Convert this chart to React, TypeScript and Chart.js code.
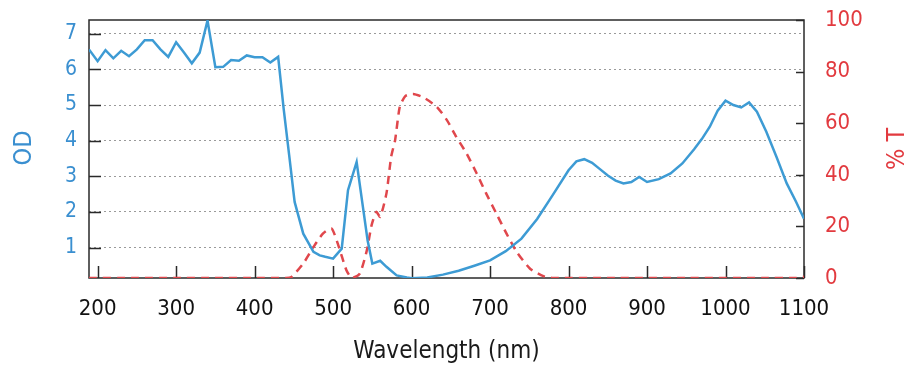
import React, { useEffect, useRef } from "react";
import { Chart, registerables } from "chart.js";

Chart.register(...registerables);

// Optical density (left axis)
const odWavelengths = [
  189, 200, 210, 220, 230, 240, 250, 260, 270, 280, 290, 300, 310, 320, 330, 340, 350, 360,
  370, 380, 390, 400, 410, 420, 430, 437, 444, 451, 462, 475, 483, 490, 500, 511, 519, 530,
  538, 544, 550, 560, 568, 581, 594, 600, 620, 640, 660, 680, 700, 720, 740, 760, 780, 800,
  810, 820, 830, 840, 850, 860, 870, 880, 890, 900, 915, 930, 945, 960, 970, 980, 990, 1000,
  1010, 1020, 1030, 1040, 1052, 1065, 1078, 1090, 1100,
];
const odValues = [
  6.56, 6.23, 6.54, 6.31, 6.52, 6.37, 6.56, 6.82, 6.82, 6.56, 6.35, 6.76, 6.47, 6.17, 6.47, 7.37, 6.06, 6.07,
  6.26, 6.24, 6.39, 6.34, 6.34, 6.19, 6.35, 4.9, 3.6, 2.28, 1.39, 0.88, 0.78, 0.74, 0.69, 0.97, 2.61, 3.4,
  2.14, 1.2, 0.55, 0.63, 0.46, 0.22, 0.16, 0.14, 0.16, 0.24, 0.35, 0.49, 0.64, 0.9, 1.25, 1.8, 2.48, 3.17,
  3.42, 3.48, 3.38, 3.2, 3.02, 2.88, 2.8, 2.84, 2.98, 2.84, 2.92, 3.08, 3.36, 3.76, 4.05, 4.39, 4.84, 5.12,
  5.0, 4.93, 5.07, 4.81, 4.25, 3.54, 2.8, 2.28, 1.81,
];

// Transmission % (right axis)
const tWavelengths = [
  189, 250, 300, 350, 400, 440, 447, 462, 475, 487, 498, 506, 517, 524, 534, 543, 549, 555,
  560, 568, 574, 579, 585, 592, 602, 615, 632, 645, 657, 670, 683, 695, 708, 721, 734, 751,
  768, 780, 850, 950, 1050, 1090, 1100,
];
const tValues = [
  0, 0, 0, 0, 0, 0, 0.4, 5.6, 12, 17.2, 19.2, 13.3, 3, 0, 1.7, 10.7, 20.4, 25.6,
  23.7, 32.8, 47, 53.4, 66.4, 70.5, 71.3, 70, 66.4, 61.2, 54.7, 48.3, 40.5, 32.8, 25, 17.2, 10.1, 3.6,
  0.7, 0, 0, 0, 0, 0, 0.5,
];

const xTitle = "Wavelength (nm)";
const leftTitle = "OD";
const rightTitle = "% T";

const FONT = "'DejaVu Sans Condensed', 'DejaVu Sans', sans-serif";
const BLUE = "#3d9bd4";
const BLUE_TEXT = "#3a8fd0";
const RED = "#e0474c";
const RED_TEXT = "#e23a3f";
const FRAME = "#2a2a2a";

const framePlugin = {
  id: "frame",
  beforeDatasetsDraw(chart: any) {
    const { ctx, chartArea: a, scales } = chart;
    ctx.save();
    ctx.strokeStyle = FRAME;
    ctx.lineWidth = 1.5;
    ctx.strokeRect(a.left, a.top, a.right - a.left, a.bottom - a.top);
    ctx.beginPath();
    scales.y.ticks.forEach((t: any) => {
      const py = Math.round(scales.y.getPixelForValue(t.value)) + 0.5;
      ctx.moveTo(a.left, py);
      ctx.lineTo(a.left + 12, py);
    });
    scales.x.ticks.forEach((t: any) => {
      const px = Math.round(scales.x.getPixelForValue(t.value)) + 0.5;
      ctx.moveTo(px, a.bottom);
      ctx.lineTo(px, a.bottom - 12);
    });
    scales.y1.ticks.forEach((t: any) => {
      const py = Math.round(scales.y1.getPixelForValue(t.value)) + 0.5;
      ctx.moveTo(a.right, py);
      ctx.lineTo(a.right - 8, py);
    });
    ctx.stroke();
    ctx.restore();
  },
  afterDraw(chart: any) {
    const { ctx, chartArea: a } = chart;
    ctx.save();
    ctx.textAlign = "center";
    ctx.textBaseline = "middle";
    ctx.fillStyle = "#1a1a1a";
    ctx.font = `24px ${FONT}`;
    ctx.fillText(xTitle, (a.left + a.right) / 2, 352);
    ctx.fillStyle = BLUE_TEXT;
    ctx.font = `25px ${FONT}`;
    ctx.translate(24, 148);
    ctx.rotate(-Math.PI / 2);
    ctx.fillText(leftTitle, 0, 0);
    ctx.setTransform(1, 0, 0, 1, 0, 0);
    ctx.fillStyle = RED_TEXT;
    ctx.translate(897, 149);
    ctx.rotate(-Math.PI / 2);
    ctx.fillText(rightTitle, 0, 0);
    ctx.restore();
  },
};

const noPadV = (w: number) => (s: any) => {
  s.width = w;
  s.paddingTop = 0;
  s.paddingBottom = 0;
};

export default function App() {
  const ref = useRef<HTMLCanvasElement | null>(null);

  useEffect(() => {
    if (!ref.current) return;
    const chart = new Chart(ref.current, {
      type: "line",
      data: {
        datasets: [
          {
            label: "OD",
            data: odWavelengths.map((x, i) => ({ x, y: odValues[i] })),
            yAxisID: "y",
            borderColor: BLUE,
            borderWidth: 2.5,
            pointRadius: 0,
            tension: 0,
            fill: false,
          },
          {
            label: "%T",
            data: tWavelengths.map((x, i) => ({ x, y: tValues[i] })),
            yAxisID: "y1",
            borderColor: RED,
            borderWidth: 2.5,
            borderDash: [8, 6],
            pointRadius: 0,
            tension: 0.2,
            fill: false,
          },
        ],
      },
      options: {
        responsive: false,
        animation: false,
        events: [],
        layout: { padding: { top: 20, left: 0, right: 0, bottom: 0 } },
        plugins: { legend: { display: false }, tooltip: { enabled: false } },
        scales: {
          x: {
            type: "linear",
            min: 189,
            max: 1100,
            ticks: {
              stepSize: 100,
              includeBounds: false,
              color: "#111",
              font: { family: FONT, size: 22 },
              padding: 18,
              maxRotation: 0,
              autoSkip: false,
              callback: (v: any) => String(v),
            },
            grid: { display: false, drawTicks: false },
            border: { display: false },
            afterFit: (s: any) => {
              s.height = 98;
              s.paddingLeft = 0;
              s.paddingRight = 0;
            },
          },
          y: {
            type: "linear",
            position: "left",
            min: 0.146,
            max: 7.385,
            ticks: {
              stepSize: 1,
              includeBounds: false,
              color: BLUE_TEXT,
              font: { family: FONT, size: 21 },
              padding: 12,
              callback: (v: any) => String(v),
            },
            grid: { color: "#9a9a9a", lineWidth: 1, drawTicks: false },
            border: { display: false, dash: [2, 3] },
            afterFit: noPadV(89),
          },
          y1: {
            type: "linear",
            position: "right",
            min: 0,
            max: 100,
            ticks: {
              stepSize: 10,
              includeBounds: false,
              color: RED_TEXT,
              font: { family: FONT, size: 22 },
              padding: 21,
              callback: (v: any) => (Number(v) % 20 === 0 ? String(v) : ""),
            },
            grid: { display: false, drawTicks: false },
            border: { display: false },
            afterFit: noPadV(116),
          },
        },
      },
      plugins: [framePlugin],
    });
    return () => chart.destroy();
  }, []);

  return (
    <div style={{ position: "fixed", left: 0, top: 0, width: 920, height: 376, background: "#fff" }}>
      <canvas ref={ref} width={920} height={376} />
    </div>
  );
}
